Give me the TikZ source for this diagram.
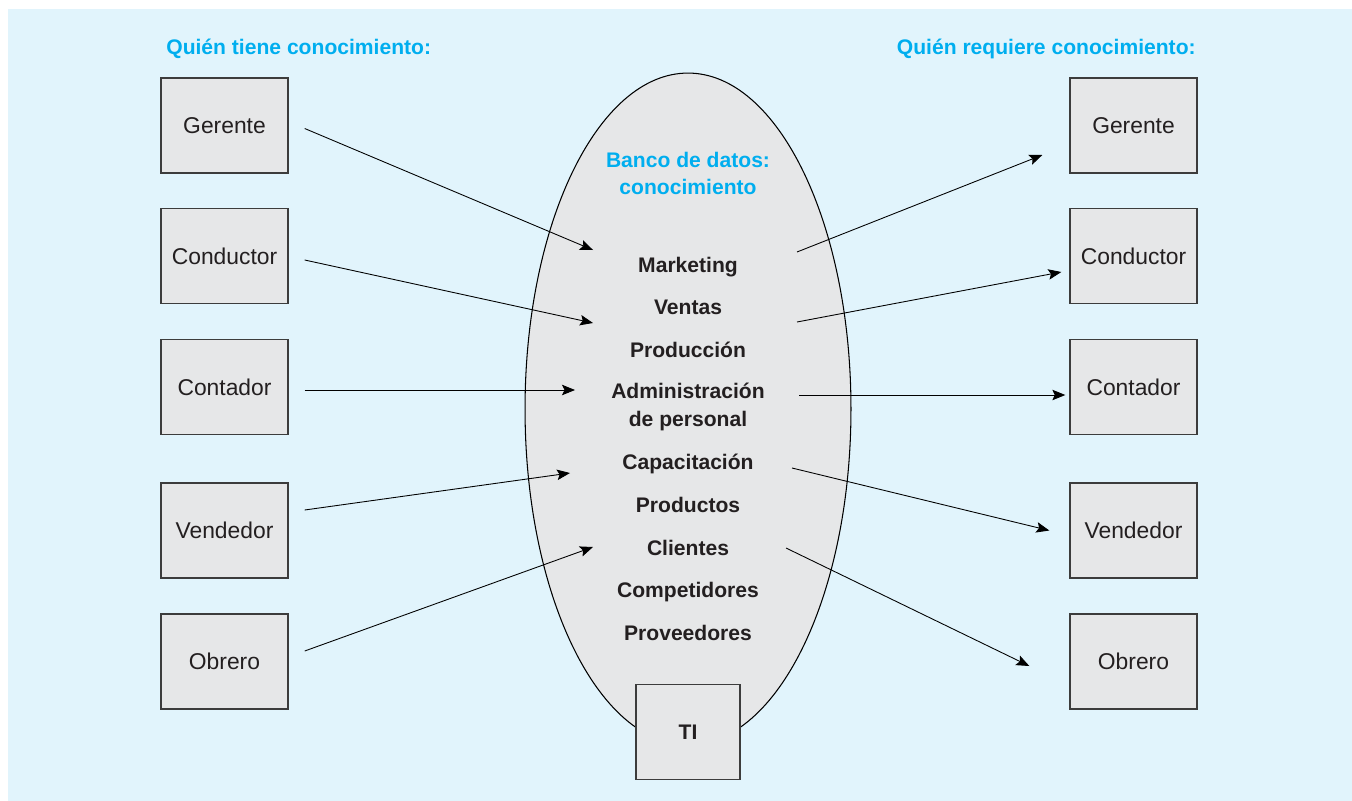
\documentclass[tikz,border=0pt]{standalone}
\usepackage{fontspec}
\setmainfont{Liberation Sans}
\usetikzlibrary{positioning, arrows.meta, shapes.geometric}

\definecolor{bgblue}{HTML}{E1F4FC}
\definecolor{boxgray}{HTML}{E6E7E8}
\definecolor{boxline}{HTML}{3C3C3C}
\definecolor{headcyan}{HTML}{00AEEF}
\definecolor{textdark}{HTML}{231F20}

\begin{document}
\begin{tikzpicture}[x=0.02cm, y=-0.02cm,
    role box/.style={rectangle, draw=boxline, fill=boxgray, line width=0.8pt, minimum width=2.54cm, minimum height=1.9cm, inner sep=0pt, text=textdark, font=\fontsize{13}{15}\selectfont},
    area/.style={anchor=base, align=center, text=textdark, font=\bfseries\fontsize{12}{15.4}\selectfont},
    heading/.style={inner sep=0pt, text=headcyan, font=\bfseries\fontsize{12}{14.8}\selectfont},
    arrow/.style={-{Stealth[length=2.6mm, width=2.1mm, inset=0.5mm]}, line width=0.5pt}
]

% background
\useasboundingbox (0,0) rectangle (1352,801);
\fill[bgblue] (8,9) rectangle (1352,801);

% data bank
\node[ellipse, draw, fill=boxgray, line width=0.6pt, minimum width=6.52cm, minimum height=13.44cm] (bank) at (688,409) {};
\node[role box, font=\bfseries\fontsize{12}{14}\selectfont, minimum width=2.08cm] (ti) at (688,732) {TI};

\node[heading, anchor=base, align=center] (banktitle) at (688,194) {Banco de datos:\\conocimiento};
\node[area] (mkt) at (688,272) {Marketing};
\node[area] (ven) at (688,314) {Ventas};
\node[area] (prod) at (688,357) {Producción};
\node[area] (adm) at (688,426) {Administración\\de personal};
\node[area] (cap) at (688,469) {Capacitación};
\node[area] (pro) at (688,512) {Productos};
\node[area] (cli) at (688,555) {Clientes};
\node[area] (comp) at (688,597) {Competidores};
\node[area] (prov) at (688,640) {Proveedores};

% headings
\node[heading, anchor=base west] (haves) at (166,54) {Quién tiene conocimiento:};
\node[heading, anchor=base east] (needs) at (1196,54) {Quién requiere conocimiento:};

% who has knowledge
\node[role box] (lg) at (224.5,125.5) {Gerente};
\node[role box] (lc) at (224.5,256) {Conductor};
\node[role box] (lk) at (224.5,387) {Contador};
\node[role box] (lv) at (224.5,530.5) {Vendedor};
\node[role box] (lo) at (224.5,661.5) {Obrero};

% who needs knowledge
\node[role box] (rg) at (1133.5,125.5) {Gerente};
\node[role box] (rc) at (1133.5,256) {Conductor};
\node[role box] (rk) at (1133.5,387) {Contador};
\node[role box] (rv) at (1133.5,530.5) {Vendedor};
\node[role box] (ro) at (1133.5,661.5) {Obrero};

% ends inside the bank
\coordinate (inG) at (593,250);
\coordinate (inC) at (593,323);
\coordinate (inK) at (575,390);
\coordinate (inV) at (570,473);
\coordinate (inO) at (593,547);
\coordinate (outG) at (797,252);
\coordinate (outC) at (797,322);
\coordinate (outK) at (799,395);
\coordinate (outV) at (792,468);
\coordinate (outO) at (786,548);

\draw[arrow] ([shift={(16,3)}]lg.east) -- (inG);
\draw[arrow] ([shift={(16,4)}]lc.east) -- (inC);
\draw[arrow] ([shift={(16,3)}]lk.east) -- (inK);
\draw[arrow] ([shift={(16,-20.5)}]lv.east) -- (inV);
\draw[arrow] ([shift={(16,-10.5)}]lo.east) -- (inO);

\draw[arrow] (outG) -- ([shift={(-27,29.5)}]rg.west);
\draw[arrow] (outC) -- ([shift={(-8,16)}]rc.west);
\draw[arrow] (outK) -- ([shift={(-4,8)}]rk.west);
\draw[arrow] (outV) -- ([shift={(-20,0)}]rv.west);
\draw[arrow] (outO) -- ([shift={(-40,4.5)}]ro.west);

\end{tikzpicture}
\end{document}
